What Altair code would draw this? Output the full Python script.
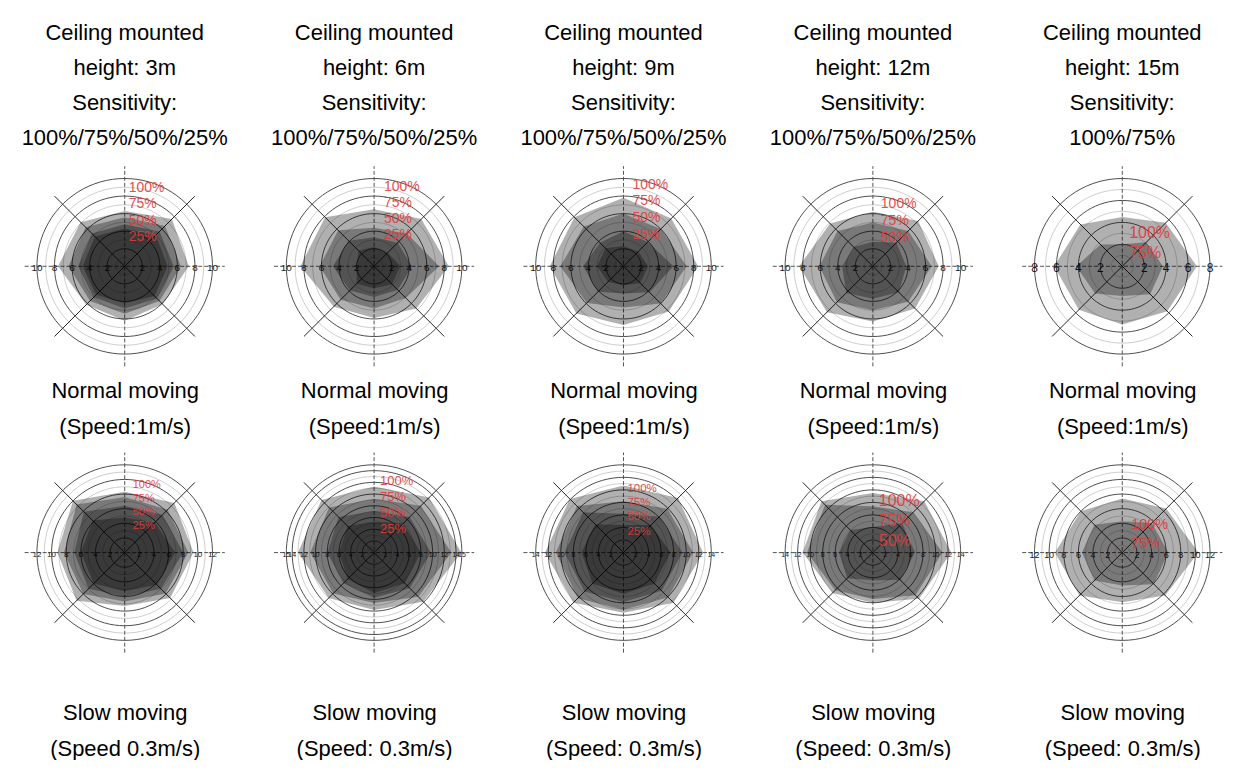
import math
import altair as alt
import pandas as pd

FONT = "Liberation Sans"

# ---------------- data ----------------
LEVELS = ["100%", "75%", "50%", "25%"]
DIRECTIONS = ["N", "NE", "E", "SE", "S", "SW", "W", "NW"]

top_titles = [
    ["Ceiling mounted", "height: 3m", "Sensitivity:", "100%/75%/50%/25%"],
    ["Ceiling mounted", "height: 6m", "Sensitivity:", "100%/75%/50%/25%"],
    ["Ceiling mounted", "height: 9m", "Sensitivity:", "100%/75%/50%/25%"],
    ["Ceiling mounted", "height: 12m", "Sensitivity:", "100%/75%/50%/25%"],
    ["Ceiling mounted", "height: 15m", "Sensitivity:", "100%/75%"],
]
normal_caption = ["Normal moving", "(Speed:1m/s)"]
slow_captions = [
    ["Slow moving", "(Speed 0.3m/s)"],
    ["Slow moving", "(Speed: 0.3m/s)"],
    ["Slow moving", "(Speed: 0.3m/s)"],
    ["Slow moving", "(Speed: 0.3m/s)"],
    ["Slow moving", "(Speed: 0.3m/s)"],
]

# outer ring value of each panel
normal_rmax = [10, 10, 10, 10, 8]
slow_rmax = [12, 15, 14, 14, 12]

# axis tick labels of each panel
normal_ticks = [[2, 4, 6, 8, 10], [2, 4, 6, 8, 10], [2, 4, 6, 8, 10], [2, 4, 6, 8, 10], [2, 4, 6, 8]]
slow_ticks = [[2, 4, 6, 8, 10, 12], [2, 4, 6, 8, 10, 12, 14, 15], [2, 4, 6, 8, 10, 12, 14],
              [2, 4, 6, 8, 10, 12, 14], [2, 4, 6, 8, 10, 12]]

# detection range (m) per sensitivity, directions N, NE, E, SE, S, SW, W, NW
normal_3m = [[6.3, 7.6, 7.3, 6.1, 6.2, 6.2, 7.6, 7.1],
             [5.6, 6.5, 6.4, 5.6, 5.4, 5.6, 6.4, 6.3],
             [4.8, 5.6, 5.6, 5.2, 4.8, 5.0, 5.3, 5.3],
             [4.3, 5.0, 4.9, 4.8, 4.2, 4.6, 4.8, 4.8]]
normal_6m = [[6.5, 7.6, 8.5, 6.8, 5.9, 6.5, 8.4, 7.9],
             [4.4, 5.3, 7.4, 5.1, 4.8, 5.4, 6.2, 5.8],
             [3.3, 3.8, 4.3, 3.8, 3.5, 3.9, 4.7, 4.1],
             [2.2, 2.2, 3.0, 2.9, 2.5, 2.8, 2.0, 2.5]]
normal_9m = [[7.8, 7.7, 8.5, 7.3, 6.7, 7.6, 8.4, 7.9],
             [6.0, 6.0, 7.2, 6.0, 4.7, 5.9, 7.2, 6.4],
             [4.0, 3.9, 5.7, 4.2, 3.1, 4.1, 4.6, 3.8],
             [2.3, 2.4, 2.8, 2.7, 2.2, 2.5, 3.0, 2.9]]
normal_12m = [[6.2, 7.3, 7.5, 6.8, 6.3, 7.4, 8.4, 6.9],
              [5.0, 5.7, 6.7, 5.7, 5.0, 5.8, 6.1, 5.7],
              [2.8, 3.8, 3.8, 4.2, 3.7, 4.3, 3.5, 3.1]]
normal_15m = [[4.5, 5.6, 6.8, 5.8, 5.3, 5.6, 6.2, 5.4],
              [2.0, 3.1, 3.7, 3.6, 2.7, 3.5, 4.2, 2.8]]

slow_3m = [[8.3, 9.6, 9.4, 8.8, 7.3, 9.3, 9.2, 10.0],
           [7.6, 8.3, 8.7, 7.9, 6.7, 8.0, 8.3, 9.3],
           [6.4, 7.3, 8.0, 7.0, 6.0, 7.0, 6.9, 7.9],
           [4.8, 5.8, 6.9, 6.2, 5.3, 6.0, 6.0, 6.2]]
slow_6m = [[11.3, 13.3, 14.9, 11.9, 9.8, 11.0, 13.0, 12.7],
           [9.2, 11.3, 13.2, 10.7, 8.6, 9.9, 10.9, 10.9],
           [7.1, 8.6, 9.7, 8.6, 7.7, 7.4, 8.0, 8.6],
           [5.3, 7.0, 8.0, 7.4, 6.9, 6.4, 6.0, 6.4]]
slow_9m = [[10.7, 12.3, 12.7, 11.3, 9.6, 11.3, 12.5, 12.1],
           [8.2, 9.9, 11.1, 10.1, 9.1, 10.3, 10.8, 10.5],
           [6.2, 8.1, 9.4, 8.6, 7.9, 8.8, 9.4, 9.1],
           [4.4, 6.2, 7.5, 7.0, 6.6, 7.0, 6.7, 6.4]]
slow_12m = [[9.5, 11.6, 12.5, 10.4, 8.0, 9.1, 11.2, 11.6],
            [7.4, 9.1, 11.1, 9.6, 7.4, 8.5, 10.5, 10.8],
            [4.1, 6.6, 6.7, 6.2, 4.4, 5.8, 5.4, 5.1]]
slow_15m = [[7.4, 8.5, 10.4, 8.3, 6.8, 8.3, 9.2, 8.0],
            [4.3, 5.7, 6.3, 6.1, 4.5, 5.4, 5.5, 5.4]]

normal_sets = [normal_3m, normal_6m, normal_9m, normal_12m, normal_15m]
slow_sets = [slow_3m, slow_6m, slow_9m, slow_12m, slow_15m]

# ---------------- layout / style (pixels) ----------------
W, H = 220, 200          # plot area of one panel
R_PX = 88.0              # pixel radius of the outer ring
# red label placement: (dx px from centre, list of dy px from centre), font size
normal_pct = [(4, [-78, -62, -45, -29], 14), (10, [-79, -63, -47, -31], 14),
              (9, [-81, -65, -48, -31], 14), (8, [-62, -45, -28], 14), (7, [-33, -13], 16)]
slow_pct = [(8, [-68, -54, -41, -27], 11), (6, [-72, -56, -40, -24], 13),
            (4, [-64, -50, -36, -21], 11.5), (6, [-52, -32, -12], 16), (9, [-28, -9], 14.5)]
normal_tick_fs = [10, 10, 10, 10, 12]
slow_tick_fs = [8, 7, 7, 7, 9]


def panel(rmax, sets, ticks, tick_fs, pct, title, caption, cap_pad):
    ppu = R_PX / rmax
    xs = alt.Scale(domain=[-W / 2 / ppu, W / 2 / ppu], nice=False, zero=False)
    ys = alt.Scale(domain=[-H / 2 / ppu, H / 2 / ppu], nice=False, zero=False)
    xaxis = alt.Axis(title=caption, labels=False, ticks=False, domain=False, grid=False,
                     titleFont=FONT, titleFontSize=22, titleFontWeight="normal",
                     titleLineHeight=36, titlePadding=cap_pad, titleColor="black")

    def X(f):
        return alt.X(f, type="quantitative", scale=xs, axis=xaxis)

    def Y(f):
        return alt.Y(f, type="quantitative", scale=ys, axis=None)

    # rings
    ring_rows = []
    for r in range(1, rmax + 1):
        shade = "dark" if (r % 2 == 0 or r == rmax) else "light"
        for a in range(0, 361, 4):
            ring_rows.append({"r": r, "a": a, "shade": shade})
    ring_df = pd.DataFrame(ring_rows)
    ring_base = alt.Chart(ring_df).transform_calculate(
        px="datum.r*sin(datum.a*PI/180)", py="datum.r*cos(datum.a*PI/180)")
    light = ring_base.transform_filter("datum.shade == 'light'").mark_line(
        color="#c8c8c8", strokeWidth=0.9).encode(
        x=X("px"), y=Y("py"), detail="r:N", order="a:Q")
    dark = ring_base.transform_filter("datum.shade == 'dark'").mark_line(
        color="#3a3a3a", strokeWidth=0.9).encode(
        x=X("px"), y=Y("py"), detail="r:N", order="a:Q")

    # cross axes and diagonals
    e = 1.14 * rmax
    d = 1.13 * rmax / math.sqrt(2)
    cross_df = pd.DataFrame({"x": [-e, 0], "y": [0, -e], "x2": [e, 0], "y2": [0, e]})
    diag_df = pd.DataFrame({"x": [-d, -d], "y": [-d, d], "x2": [d, d], "y2": [d, -d]})
    cross = alt.Chart(cross_df).mark_rule(color="#555555", strokeWidth=1, strokeDash=[4, 2]).encode(
        x=X("x"), y=Y("y"), x2="x2:Q", y2="y2:Q")
    diag = alt.Chart(diag_df).mark_rule(color="#262626", strokeWidth=1).encode(
        x=X("x"), y=Y("y"), x2="x2:Q", y2="y2:Q")

    # tick labels along the horizontal axis
    tick_rows = []
    for v in ticks:
        tick_rows.append({"x": -v, "y": 0, "t": str(v)})
        tick_rows.append({"x": v, "y": 0, "t": str(v)})
    tick_df = pd.DataFrame(tick_rows)
    tick_txt = alt.Chart(tick_df).mark_text(fontSize=tick_fs, baseline="middle", dy=2,
                                            color="#1a1a1a").encode(
        x=X("x"), y=Y("y"), text="t:N")

    # coverage polygons
    poly_rows = []
    for li, radii in enumerate(sets):
        for k in range(9):
            poly_rows.append({"level": LEVELS[li], "k": k, "r": radii[k % 8]})
    poly_df = pd.DataFrame(poly_rows)
    polys = alt.Chart(poly_df).transform_calculate(
        px="datum.r*sin(datum.k*PI/4)", py="datum.r*cos(datum.k*PI/4)").mark_line(
        fill="#000000", fillOpacity=0.31, strokeWidth=0, strokeOpacity=0).encode(
        x=X("px"), y=Y("py"), detail="level:N", order="k:Q")

    # red sensitivity labels
    dx, dys, pfs = pct
    pct_df = pd.DataFrame({"x": [dx / ppu] * len(dys), "y": [-v / ppu for v in dys],
                           "t": LEVELS[:len(dys)]})
    pct_txt = alt.Chart(pct_df).mark_text(fontSize=pfs, align="left", baseline="middle",
                                          color="#e23b3b", opacity=0.9).encode(
        x=X("x"), y=Y("y"), text="t:N")

    ch = alt.layer(light, dark, cross, diag, tick_txt, polys, pct_txt)
    if title is not None:
        ch = ch.properties(width=W, height=H,
                           title=alt.TitleParams(text=title, fontSize=22, font=FONT,
                                                 fontWeight="normal", lineHeight=35,
                                                 offset=16, anchor="middle", color="black"))
    else:
        ch = ch.properties(width=W, height=H)
    return ch


row1 = [panel(normal_rmax[i], normal_sets[i], normal_ticks[i], normal_tick_fs[i],
              normal_pct[i], top_titles[i], normal_caption, 15) for i in range(5)]
row2 = [panel(slow_rmax[i], slow_sets[i], slow_ticks[i], slow_tick_fs[i],
              slow_pct[i], None, slow_captions[i], 50) for i in range(5)]

chart = alt.ConcatChart(
    concat=row1 + row2, columns=5, spacing={"row": 87, "column": 30}, bounds="flush"
).resolve_scale(x="independent", y="independent").properties(
    padding={"left": 7, "top": 13, "right": 0, "bottom": 0}
).configure(font=FONT).configure_view(stroke=None)

chart.save("out.html", embed_options={"renderer": "svg", "actions": False})
